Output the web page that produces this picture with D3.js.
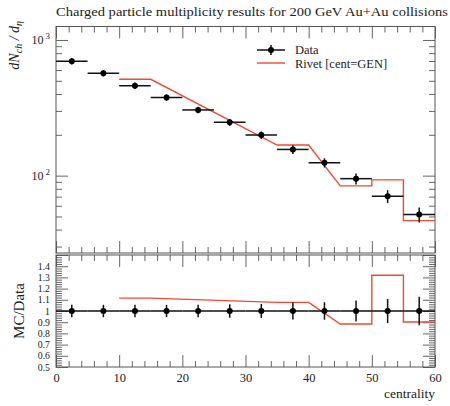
<!DOCTYPE html>
<html>
<head>
<meta charset="utf-8">
<script src="https://cdn.jsdelivr.net/npm/d3@7"></script>
<style>
  body { margin: 0; background: #fff; }
  text { font-family: "Liberation Serif", "DejaVu Serif", serif; fill: #222; }
</style>
</head>
<body>
<div class="chart"></div>
<script>
// data
var binLow  = [0, 5, 10, 15, 20, 25, 30, 35, 40, 45, 50, 55];
var binHigh = [5, 10, 15, 20, 25, 30, 35, 40, 45, 50, 55, 60];
var dataVal = [697, 569, 460, 376, 305, 247, 199, 156, 124.5, 95, 70.5, 51.7];
var dataErrRel = [0.055, 0.055, 0.055, 0.055, 0.055, 0.06, 0.063, 0.075, 0.078, 0.093, 0.108, 0.128];

// Rivet MC bins that were drawn
var mcLow  = [10, 35, 45, 50, 55];
var mcHigh = [15, 40, 50, 55, 60];
var mcVal  = [513, 168, 84, 93, 46.6];

var xMajor = [0, 10, 20, 30, 40, 50, 60];
var yMajor = [100, 1000];
var ratioLabels = [0.5, 0.6, 0.7, 0.8, 0.9, 1.0, 1.1, 1.2, 1.3, 1.4];

var svgWidth = 450;
var svgHeight = 406;

var left = 56, right = 435;
var mainTop = 26.5, mainBottom = 253;
var ratioTop = 255, ratioBottom = 367;
var red = "#ee4b30";

var svg = d3.select(".chart").append("svg")
  .attr("width", svgWidth)
  .attr("height", svgHeight);

// scales
var xScale = d3.scaleLinear().domain([0, 60]).range([left, right]);
var yScale = d3.scaleLog().domain([26.9, 1257]).range([mainBottom, mainTop]);
var rScale = d3.scaleLinear().domain([0.5, 1.5]).range([ratioBottom, ratioTop]);

// minor tick lists
var xMinor = d3.range(0, 61, 2).filter(d => d % 10 != 0);
var yMinor = [];
[10, 100, 1000].forEach(function(dec) {
  for (var k = 2; k <= 9; k++) {
    var v = dec * k;
    if (v > 26.9 && v < 1257) yMinor.push(v);
  }
});
var rMajor = d3.range(5, 16).map(d => d / 10);
var rMinor = d3.range(25, 76).map(d => d / 50).filter(d => Math.abs(d * 10 - Math.round(d * 10)) > 1e-6);

// draw inward ticks with a d3 axis
function ticks(axisFn, scale, values, size, transform) {
  var g = svg.append("g")
    .attr("transform", transform)
    .call(axisFn(scale).tickValues(values).tickSize(-size).tickFormat(""));
  g.select(".domain").remove();
  g.selectAll("line").attr("stroke", "#555").attr("stroke-width", 0.9);
  return g;
}

function panelTicks(yS, yMaj, yMin, top, bottom) {
  ticks(d3.axisBottom, xScale, xMajor, 12, `translate(0, ${bottom})`);
  ticks(d3.axisBottom, xScale, xMinor, 6, `translate(0, ${bottom})`);
  ticks(d3.axisTop, xScale, xMajor, 12, `translate(0, ${top})`);
  ticks(d3.axisTop, xScale, xMinor, 6, `translate(0, ${top})`);
  ticks(d3.axisLeft, yS, yMaj, 12, `translate(${left}, 0)`);
  ticks(d3.axisLeft, yS, yMin, 6, `translate(${left}, 0)`);
  ticks(d3.axisRight, yS, yMaj, 12, `translate(${right}, 0)`);
  ticks(d3.axisRight, yS, yMin, 6, `translate(${right}, 0)`);
  svg.append("rect")
    .attr("x", left).attr("y", top)
    .attr("width", right - left).attr("height", bottom - top)
    .attr("fill", "none").attr("stroke", "#555").attr("stroke-width", 1);
}

panelTicks(yScale, yMajor, yMinor, mainTop, mainBottom);
panelTicks(rScale, rMajor, rMinor, ratioTop, ratioBottom);

// title
svg.append("text")
  .attr("x", left).attr("y", 16)
  .attr("textLength", 392).attr("lengthAdjust", "spacingAndGlyphs")
  .style("font-size", "13.5px")
  .text("Charged particle multiplicity results for 200 GeV Au+Au collisions");

// log axis labels 10^2, 10^3
yMajor.forEach(function(v) {
  var t = svg.append("text")
    .attr("x", 50).attr("y", yScale(v) + 4)
    .attr("text-anchor", "end")
    .style("font-size", "12px");
  t.append("tspan").text("10");
  t.append("tspan").attr("dx", 2).attr("dy", -5).style("font-size", "9px").text(Math.round(Math.log10(v)));
});

// ratio axis labels
var rLab = svg.append("g")
  .attr("transform", `translate(${left}, 0)`)
  .call(d3.axisLeft(rScale).tickValues(ratioLabels).tickSize(0).tickPadding(6)
    .tickFormat(d => d == 1 ? "1" : d3.format(".1f")(d)));
rLab.select(".domain").remove();
rLab.selectAll("text").style("font-size", "9.8px").style("font-family", "Liberation Serif").attr("fill", "#222");

// x axis labels
var xLab = svg.append("g")
  .attr("transform", `translate(0, ${ratioBottom})`)
  .call(d3.axisBottom(xScale).tickValues(xMajor).tickSize(0).tickPadding(6));
xLab.select(".domain").remove();
xLab.selectAll("text").style("font-size", "12.5px").style("font-family", "Liberation Serif").attr("fill", "#222");

svg.append("text")
  .attr("x", right).attr("y", 398)
  .attr("text-anchor", "end")
  .style("font-size", "13.5px")
  .text("centrality");

// y labels
var yl = svg.append("text")
  .attr("transform", "rotate(-90)")
  .attr("x", -21).attr("y", 19)
  .attr("text-anchor", "end")
  .style("font-size", "14px")
  .style("font-style", "italic");
yl.append("tspan").text("dN");
yl.append("tspan").attr("dy", 3).style("font-size", "10px").text("ch");
yl.append("tspan").attr("dy", -3).text(" / d");
yl.append("tspan").attr("dy", 3).style("font-size", "10px").text("η");

svg.append("text")
  .attr("transform", "rotate(-90)")
  .attr("x", -rScale(1)).attr("y", 24)
  .attr("text-anchor", "middle")
  .style("font-size", "15px")
  .text("MC/Data");

// Rivet line (main)
var mcPoints = [];
mcLow.forEach(function(lo, i) {
  mcPoints.push([lo, mcVal[i]]);
  mcPoints.push([mcHigh[i], mcVal[i]]);
});
var mcLine = d3.line()
  .x(d => xScale(d[0]))
  .y(d => yScale(d[1]));
svg.append("path")
  .datum(mcPoints)
  .attr("d", mcLine)
  .attr("fill", "none")
  .attr("stroke", red)
  .attr("stroke-width", 1.4);

// Rivet ratio line
var ratioPoints = [];
mcLow.forEach(function(lo, i) {
  var j = binLow.indexOf(lo);
  var ratio = mcVal[i] / dataVal[j];
  ratioPoints.push([lo, ratio]);
  ratioPoints.push([mcHigh[i], ratio]);
});
var ratioLine = d3.line()
  .x(d => xScale(d[0]))
  .y(d => rScale(d[1]));
svg.append("path")
  .datum(ratioPoints)
  .attr("d", ratioLine)
  .attr("fill", "none")
  .attr("stroke", red)
  .attr("stroke-width", 1.4);

// data points, main panel
var pts = svg.append("g");
binLow.forEach(function(lo, i) {
  var v = dataVal[i], e = dataErrRel[i], c = (lo + binHigh[i]) / 2;
  pts.append("line")
    .attr("x1", xScale(lo)).attr("x2", xScale(binHigh[i]))
    .attr("y1", yScale(v)).attr("y2", yScale(v))
    .attr("stroke", "#111").attr("stroke-width", 1.5);
  pts.append("line")
    .attr("x1", xScale(c)).attr("x2", xScale(c))
    .attr("y1", yScale(v * (1 - e))).attr("y2", yScale(v * (1 + e)))
    .attr("stroke", "#111").attr("stroke-width", 1.5);
  pts.append("circle")
    .attr("cx", xScale(c)).attr("cy", yScale(v))
    .attr("r", 3).attr("fill", "#000");

  // ratio panel
  pts.append("line")
    .attr("x1", xScale(lo)).attr("x2", xScale(binHigh[i]))
    .attr("y1", rScale(1)).attr("y2", rScale(1))
    .attr("stroke", "#111").attr("stroke-width", 1.5);
  pts.append("line")
    .attr("x1", xScale(c)).attr("x2", xScale(c))
    .attr("y1", rScale(1 - e)).attr("y2", rScale(1 + e))
    .attr("stroke", "#111").attr("stroke-width", 1.5);
  pts.append("circle")
    .attr("cx", xScale(c)).attr("cy", rScale(1))
    .attr("r", 3).attr("fill", "#000");
});

// legend
svg.append("line").attr("x1", 257).attr("x2", 285).attr("y1", 50).attr("y2", 50)
  .attr("stroke", "#111").attr("stroke-width", 1.5);
svg.append("line").attr("x1", 271).attr("x2", 271).attr("y1", 45).attr("y2", 55)
  .attr("stroke", "#111").attr("stroke-width", 1.5);
svg.append("circle").attr("cx", 271).attr("cy", 50).attr("r", 3).attr("fill", "#000");
svg.append("text").attr("x", 295).attr("y", 54).style("font-size", "12.5px").text("Data");

svg.append("line").attr("x1", 257).attr("x2", 285).attr("y1", 63).attr("y2", 63)
  .attr("stroke", red).attr("stroke-width", 1.4);
svg.append("text").attr("x", 295).attr("y", 68).style("font-size", "12.5px").text("Rivet [cent=GEN]");
</script>
</body>
</html>
